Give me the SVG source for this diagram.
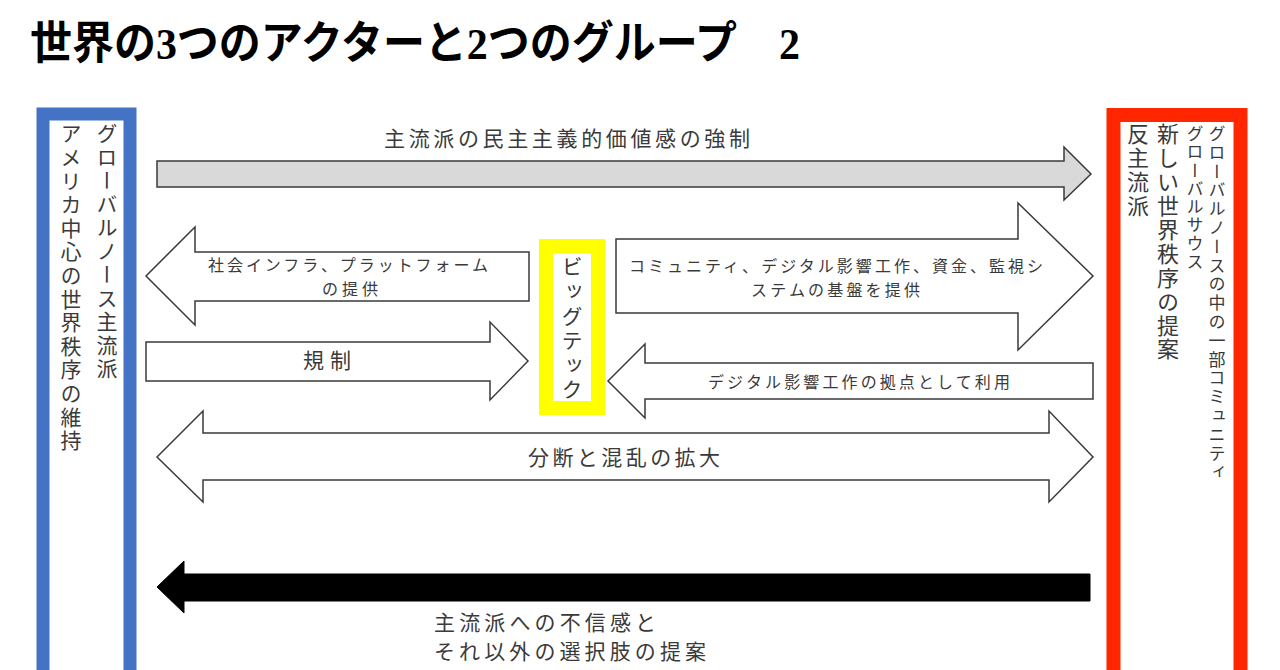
<svg xmlns="http://www.w3.org/2000/svg" width="1280" height="670" viewBox="0 0 1280 670">
<style>
.t{font-family:"Noto Sans CJK JP","Noto Sans",sans-serif;fill:#3a3a3a}
.v{font-family:"Noto Sans CJK JP","Noto Sans",sans-serif;fill:#3a3a3a;writing-mode:vertical-rl}
.ar{fill:#ffffff;stroke:#3a3a3a;stroke-width:1.5;stroke-linejoin:miter}
</style>
<rect width="1280" height="670" fill="#ffffff"/>
<text id="title" x="30" y="59" font-family="'Liberation Serif','Noto Sans CJK JP',serif" font-weight="bold" font-size="45" textLength="770" lengthAdjust="spacingAndGlyphs" fill="#000">世界の3つのアクターと2つのグループ　2</text>

<g id="left-node">
<rect x="43" y="114" width="87" height="600" fill="#ffffff" stroke="#4472C4" stroke-width="13"/>
<text class="v" x="107" y="123" font-size="21" letter-spacing="2.5">グローバルノース主流派</text>
<text class="v" x="71" y="123" font-size="21" letter-spacing="2.6">アメリカ中心の世界秩序の維持</text>
</g>

<g id="right-node">
<rect x="1113.5" y="115" width="127" height="600" fill="#ffffff" stroke="#FF2600" stroke-width="14"/>
<text class="v" x="1217" y="125" font-size="17" letter-spacing="1.8">グローバルノースの中の一部コミュニティ</text>
<text class="v" x="1195" y="125" font-size="17" letter-spacing="1.3">グローバルサウス</text>
<text class="v" x="1168" y="123" font-size="22" letter-spacing="1.9">新しい世界秩序の提案</text>
<text class="v" x="1138" y="123" font-size="22" letter-spacing="1.8">反主流派</text>
</g>

<g id="bigtech-node">
<rect x="546" y="246" width="52" height="162" fill="#ffffff" stroke="#FFFF00" stroke-width="14"/>
<text class="v" x="572" y="256" font-size="21" letter-spacing="3.6">ビッグテック</text>
</g>

<g id="connectors">
<polygon points="157,161 1064,161 1064,147 1091,174 1064,200 1064,187 157,187" fill="#D9D9D9" stroke="#3a3a3a" stroke-width="1.5"/>
<text class="t" x="384" y="146" font-size="21" textLength="366" lengthAdjust="spacing">主流派の民主主義的価値感の強制</text>

<polygon class="ar" points="146,276 195,227 195,252 529,252 529,301 195,301 195,325"/>
<text class="t" x="208" y="271" font-size="16" textLength="280" lengthAdjust="spacing">社会インフラ、プラットフォーム</text>
<text class="t" x="322" y="295" font-size="16" textLength="56" lengthAdjust="spacing">の提供</text>

<polygon class="ar" points="146,342 490,342 490,322 528,361 490,400 490,381 146,381"/>
<text class="t" x="303" y="368" font-size="21" textLength="48" lengthAdjust="spacing">規制</text>

<polygon class="ar" points="616,239 1018,239 1018,203 1093,276 1018,350 1018,313 616,313"/>
<text class="t" x="629" y="272" font-size="16" textLength="414" lengthAdjust="spacing">コミュニティ、デジタル影響工作、資金、監視シ</text>
<text class="t" x="751" y="296" font-size="16" textLength="169" lengthAdjust="spacing">ステムの基盤を提供</text>

<polygon class="ar" points="608,381 645,344 645,363 1093,363 1093,399 645,399 645,418"/>
<text class="t" x="708" y="388" font-size="16" textLength="302" lengthAdjust="spacing">デジタル影響工作の拠点として利用</text>

<polygon class="ar" points="157,457 203,411 203,433 1049,433 1049,411 1093,457 1049,502 1049,480 203,480 203,502"/>
<text class="t" x="528" y="465" font-size="21" textLength="192" lengthAdjust="spacing">分断と混乱の拡大</text>

<polygon points="157,587 184,561 184,574 1090,574 1090,601 184,601 184,613" fill="#000000" stroke="#000000" stroke-width="1"/>
<text class="t" x="434" y="630" font-size="21" textLength="222" lengthAdjust="spacing">主流派への不信感と</text>
<text class="t" x="434" y="659" font-size="21" textLength="272" lengthAdjust="spacing">それ以外の選択肢の提案</text>
</g>
</svg>
